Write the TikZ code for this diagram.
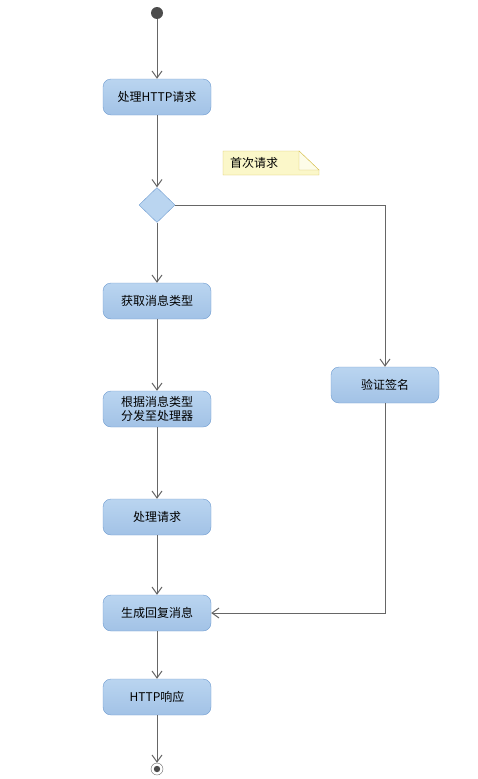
\documentclass[tikz,border=0pt]{standalone}
\usepackage{fontspec}
\newfontfamily\cjk{Noto Sans CJK SC}
\usetikzlibrary{shapes.geometric,arrows.meta}
\definecolor{boxtop}{HTML}{BAD5F0}
\definecolor{boxbot}{HTML}{A2C2E6}
\definecolor{boxline}{HTML}{6E9BD0}
\definecolor{flowline}{HTML}{666666}
\definecolor{notefill}{HTML}{FBF7C9}
\definecolor{noteline}{HTML}{D8C255}
\begin{document}
\begin{tikzpicture}[x=1pt,y=-1pt,
  activity/.style={rectangle,rounded corners=8pt,draw=boxline,top color=boxtop,bottom color=boxbot,
    minimum width=108pt,minimum height=36pt,inner sep=0pt,align=center,
    font=\cjk\fontsize{12}{14}\selectfont},
  decision/.style={diamond,draw=boxline,fill=boxtop,minimum width=36pt,minimum height=35pt,inner sep=0pt},
  flow/.style={draw=flowline,line width=1pt,-{Straight Barb[length=7pt,width=10pt]}}]
\useasboundingbox (0,0) rectangle (478,779);

\node[circle,fill=black!70,minimum size=12pt,inner sep=0pt] (start) at (157,13){};
\node[activity] (handle) at (157,97){处理HTTP请求};
\node[decision] (first) at (157,205){};
\node[activity] (msgtype) at (157,301){获取消息类型};
\node[activity] (dispatch) at (157,409){根据消息类型\\分发至处理器};
\node[activity] (process) at (157,517){处理请求};
\node[activity] (reply) at (157,613){生成回复消息};
\node[activity] (response) at (157,697){HTTP响应};
\node[activity] (verify) at (385,385){验证签名};
\node[circle,draw=flowline,fill=white,minimum size=12pt,inner sep=0pt] (stop) at (157,769){};
\fill[black!70] (stop.center) circle (3.2pt);

% note
\path[draw=noteline,fill=notefill] (223,151) -- (299,151) -- (319,170) -- (319,175) -- (223,175) -- cycle;
\path[draw=noteline,fill=white!60!notefill] (299,151) -- (299,170) -- (319,170) -- cycle;
\node[inner sep=0pt,font=\cjk\fontsize{12}{14}\selectfont] (note) at (254,163){首次请求};

\path[flow] (start) edge (handle);
\path[flow] (handle) edge (first);
\path[flow] (first) edge (msgtype);
\path[flow] (msgtype) edge (dispatch);
\path[flow] (dispatch) edge (process);
\path[flow] (process) edge (reply);
\path[flow] (reply) edge (response);
\path[flow] (response) edge (stop);
\draw[flow] (first.east) -| (verify.north);
\draw[flow] (verify.south) |- (reply.east);

\end{tikzpicture}
\end{document}
